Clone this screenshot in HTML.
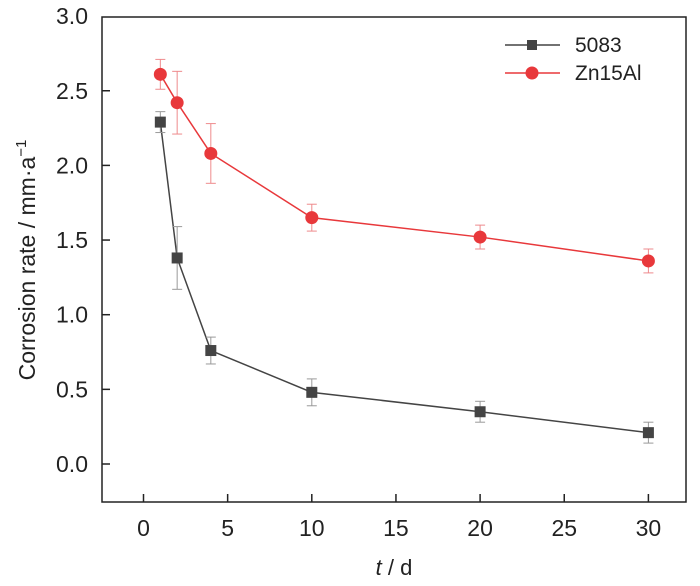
<!DOCTYPE html>
<html><head><meta charset="utf-8"><style>
body{margin:0;background:#fff;}
text{font-family:"Liberation Sans",sans-serif;}
</style></head><body>
<svg id="chart" width="700" height="581">
<rect x="102" y="17" width="584" height="485" fill="none" stroke="#222" stroke-width="1.5"/>
<g id="axes"></g>
<g id="series"></g>
<text x="35" y="260" font-size="23" text-anchor="middle" transform="rotate(-90 35 260)" fill="#222">Corrosion rate / mm·a<tspan dy="-9" font-size="15">−1</tspan></text>
<text x="394" y="575" font-size="22" text-anchor="middle" fill="#222"><tspan font-style="italic">t</tspan> / d</text>
<g>
<line x1="505" y1="45" x2="560" y2="45" stroke="#444" stroke-width="1.5"/>
<rect x="527" y="40" width="10" height="10" fill="#444"/>
<text x="575" y="52" font-size="21" fill="#222">5083</text>
<line x1="505" y1="73" x2="560" y2="73" stroke="#e8383b" stroke-width="1.5"/>
<circle cx="532" cy="73" r="6.5" fill="#e8383b"/>
<text x="575" y="80" font-size="21" fill="#222">Zn15Al</text>
</g>
</svg>
<script>
const days=[1,2,4,10,20,30];
const rate5083=[2.29,1.38,0.76,0.48,0.35,0.21];
const err5083=[0.07,0.21,0.09,0.09,0.07,0.07];
const rateZn=[2.61,2.42,2.08,1.65,1.52,1.36];
const errZn=[0.10,0.21,0.20,0.09,0.08,0.08];
const xTicks=[0,5,10,15,20,25,30];
const yTicks=["0.0","0.5","1.0","1.5","2.0","2.5","3.0"];
const NS="http://www.w3.org/2000/svg";
const X=v=>143.5+v*16.83;
const Y=v=>464-v*149.3;
function mk(tag,attrs,parent){const e=document.createElementNS(NS,tag);for(const k in attrs)e.setAttribute(k,attrs[k]);parent.appendChild(e);return e;}
const ax=document.getElementById('axes');
xTicks.forEach(t=>{
 mk('line',{x1:X(t),x2:X(t),y1:502,y2:494,stroke:'#222','stroke-width':1.5},ax);
 const tx=mk('text',{x:X(t),y:536,'font-size':23,'text-anchor':'middle',fill:'#222'},ax);
 tx.textContent=t;
 
 
});
yTicks.forEach(t=>{
 const v=parseFloat(t);
 if(v<3)mk('line',{x1:102,x2:110,y1:Y(v),y2:Y(v),stroke:'#222','stroke-width':1.5},ax);
 const tx=mk('text',{x:88,y:Y(v)+8,'font-size':23,'text-anchor':'end',fill:'#222'},ax);
 tx.textContent=t;
 
 
});
const sg=document.getElementById('series');
function series(vals,errs,color,ecolor,shape,name){
 const g=mk('g',{},sg);
 
 
 mk('polyline',{points:days.map((d,i)=>X(d)+','+Y(vals[i])).join(' '),fill:'none',stroke:color,'stroke-width':1.5},g);
 days.forEach((d,i)=>{
  const x=X(d),y1=Y(vals[i]-errs[i]),y2=Y(vals[i]+errs[i]);
  mk('line',{x1:x,x2:x,y1:y1,y2:y2,stroke:ecolor,'stroke-width':1},g);
  mk('line',{x1:x-5,x2:x+5,y1:y1,y2:y1,stroke:ecolor,'stroke-width':1},g);
  mk('line',{x1:x-5,x2:x+5,y1:y2,y2:y2,stroke:ecolor,'stroke-width':1},g);
  let m;
  if(shape==='sq')m=mk('rect',{x:x-5.5,y:Y(vals[i])-5.5,width:11,height:11,fill:color},g);
  else m=mk('circle',{cx:x,cy:Y(vals[i]),r:6.5,fill:color},g);
  
  
 });
}
series(rateZn,errZn,'#e8383b','#ee8a8c','c','series-zn15al');
series(rate5083,err5083,'#444','#999','sq','series-5083');
</script>
</body></html>
